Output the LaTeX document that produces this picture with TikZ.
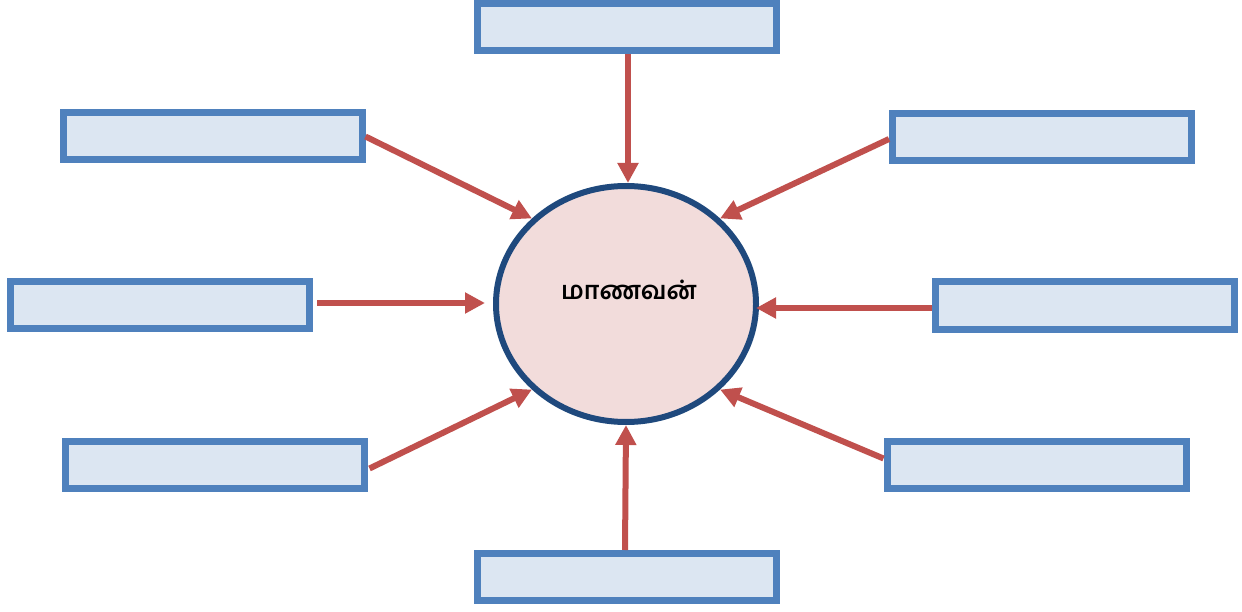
\documentclass[tikz,border=0pt]{standalone}
\usepackage{fontspec}
\newfontfamily\tamilfont[Script=Tamil]{Hind Madurai}
\usetikzlibrary{arrows.meta,shapes.geometric}
\definecolor{boxline}{HTML}{4F81BD}
\definecolor{boxfill}{HTML}{DCE6F2}
\definecolor{ellline}{HTML}{1F497D}
\definecolor{ellfill}{HTML}{F2DCDB}
\definecolor{arrowred}{HTML}{C0504D}
\begin{document}
\begin{tikzpicture}[x=1pt,y=-1pt,
  emptybox/.style={draw=boxline,fill=boxfill,line width=7pt,minimum width=299pt,minimum height=47pt,inner sep=0pt},
  link/.style={draw=arrowred,line width=6pt,-{Triangle[length=20pt,width=20pt]}}]
\useasboundingbox (0,0) rectangle (1242,612);
\node[draw=ellline,fill=ellfill,line width=6pt,ellipse,minimum width=260pt,minimum height=236pt,inner sep=0pt] (ell) at (626,304) {};
\node[font=\tamilfont\bfseries\fontsize{25}{30}\selectfont] (lbl) at (629,290) {மாணவன்};
\node[emptybox] (t) at (626.5,27.5) {};
\node[emptybox] (lt) at (212.5,136.5) {};
\node[emptybox] (rt) at (1042,137) {};
\node[emptybox] (lm) at (160,305) {};
\node[emptybox] (rm) at (1084.5,305.5) {};
\node[emptybox] (lb) at (214.5,464.5) {};
\node[emptybox] (rb) at (1036.5,464.5) {};
\node[emptybox] (b) at (626.5,577) {};
\draw[link] (t.south) ++(1.5,0) coordinate (ts) -- (ts |- ell.north);
\draw[link] (lt.east) -- (ell.north west);
\draw[link] (rt.west) ++(0,2) coordinate (rts) -- (ell.north east);
\draw[link,shorten <=4pt,shorten >=8pt] (lm.east) ++(0,-2) coordinate (lms) -- (lms -| ell.west);
\draw[link,shorten >=-3pt] (rm.west) ++(0,2.5) coordinate (rms) -- (rms -| ell.east);
\draw[link] (lb.east) ++(2,4) coordinate (lbs) -- (ell.south west);
\draw[link] (rb.west) ++(0,-6) coordinate (rbs) -- (ell.south east);
\draw[link] (b.north) ++(-1.5,0) coordinate (bs) -- (ell.south);
\end{tikzpicture}
\end{document}
